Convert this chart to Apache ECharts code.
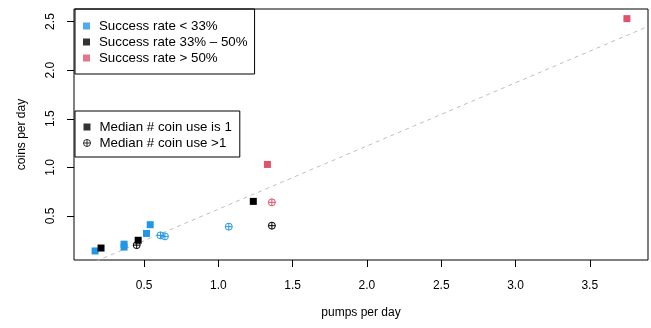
<!DOCTYPE html>
<html>
<head>
	<meta charset="UTF-8" />
	<title></title>
	<style type="text/css">
		* { margin: 0; padding: 0; }
		#main { width: 651px; height: 328px; background-color: #fff; }
	</style>
</head>
<body>
	<div id="main"></div>
</body>
<script src="https://cdn.jsdelivr.net/npm/echarts@6/dist/echarts.min.js"></script>
<script type="text/javascript">
	// [pumps per day, coins per day]
	// median coin use is 1 (filled square)
	var lowRate1 = [[0.17, 0.14], [0.365, 0.21], [0.365, 0.18], [0.516, 0.32], [0.541, 0.41]]
	var midRate1 = [[0.21, 0.17], [0.46, 0.25], [1.235, 0.65]]
	var highRate1 = [[1.33, 1.03], [3.75, 2.53]]
	// median coin use > 1 (circle with plus)
	var lowRate2 = [[0.61, 0.30], [0.64, 0.29], [1.07, 0.39]]
	var midRate2 = [[0.45, 0.20], [1.36, 0.40]]
	var highRate2 = [[1.36, 0.64]]

	var xTicks = [0.5, 1.0, 1.5, 2.0, 2.5, 3.0, 3.5]
	var yTicks = [0.5, 1.0, 1.5, 2.0, 2.5]

	// dashed reference line  y = a + b*x
	var lineA = -0.08
	var lineB = 0.65

	var rateNames = ['Success rate < 33%', 'Success rate 33% \u2013 50%', 'Success rate > 50%']
	var useNames = ['Median # coin use is 1', 'Median # coin use >1']

	var blue = '#2297E6', black = '#000000', pink = '#DF536B'
	var xMin = 0.028, xMax = 3.892, yMin = 0.047, yMax = 2.629
	var plusPath = 'path://M10,0A10,10,0,1,1,10,20A10,10,0,1,1,10,0ZM0,10L20,10M10,0L10,20'
	var font = 'Liberation Sans, Arial, Helvetica, sans-serif'

	var myChart = echarts.init(document.getElementById('main'), null, { renderer: 'canvas' })

	function squares(data, color) {
		return {
			type: 'scatter', symbol: 'rect', symbolSize: 7, data: data,
			itemStyle: { color: color, opacity: 1 }, z: 3, silent: true
		}
	}
	function pluses(data, color) {
		return {
			type: 'scatter', symbol: plusPath, symbolSize: 7, data: data,
			itemStyle: { color: 'rgba(0,0,0,0)', borderColor: color, borderWidth: 1, opacity: 1 }, z: 3, silent: true
		}
	}
	function dummy(name, color) {
		return { type: 'scatter', name: name, data: [], itemStyle: { color: color } }
	}

	var lineData = [xMin, xMax].map(x => [x, lineA + lineB * x])

	var option = {
		animation: false,
		textStyle: { fontFamily: font },
		grid: {
			left: 74, right: 3, top: 9, bottom: 68,
			show: true, borderColor: '#000', borderWidth: 1, backgroundColor: 'transparent'
		},
		xAxis: {
			type: 'value', min: xMin, max: xMax,
			name: 'pumps per day', nameLocation: 'middle', nameGap: 47,
			nameTextStyle: { color: '#000', fontSize: 12, fontFamily: font },
			axisLine: { show: false },
			splitLine: { show: false },
			axisTick: { show: true, length: 7, customValues: xTicks, lineStyle: { color: '#000' } },
			axisLabel: {
				customValues: xTicks, margin: 20, color: '#000', fontSize: 12, fontFamily: font,
				formatter: v => v.toFixed(1)
			}
		},
		yAxis: {
			type: 'value', min: yMin, max: yMax,
			name: 'coins per day', nameLocation: 'middle', nameGap: 46,
			nameTextStyle: { color: '#000', fontSize: 12, fontFamily: font },
			axisLine: { show: false },
			splitLine: { show: false },
			axisTick: { show: true, length: 7, customValues: yTicks, lineStyle: { color: '#000' } },
			axisLabel: {
				customValues: yTicks, margin: 17, rotate: 90, color: '#000', fontSize: 12, fontFamily: font,
				formatter: v => v.toFixed(1)
			}
		},
		legend: [{
			orient: 'vertical', left: 75, top: 9,
			borderColor: '#000', borderWidth: 1, padding: [9, 7, 8, 8],
			itemWidth: 7, itemHeight: 7, itemGap: 0,
			textStyle: { fontSize: 13.3, lineHeight: 16, color: '#000', fontFamily: font, padding: [0, 0, 0, 4] },
			selectedMode: false,
			data: [
				{ name: rateNames[0], icon: 'rect', itemStyle: { color: blue } },
				{ name: rateNames[1], icon: 'rect', itemStyle: { color: black } },
				{ name: rateNames[2], icon: 'rect', itemStyle: { color: pink } }
			]
		}, {
			orient: 'vertical', left: 75, top: 111,
			borderColor: '#000', borderWidth: 1, padding: [8, 8, 6, 8],
			itemWidth: 7, itemHeight: 7, itemGap: 0,
			textStyle: { fontSize: 13.3, lineHeight: 16, color: '#000', fontFamily: font, padding: [0, 0, 0, 4] },
			selectedMode: false,
			data: [
				{ name: useNames[0], icon: 'rect', itemStyle: { color: black } },
				{ name: useNames[1], icon: plusPath, itemStyle: { color: 'rgba(0,0,0,0)', borderColor: black, borderWidth: 1 } }
			]
		}],
		series: [
			{
				type: 'line', data: lineData, showSymbol: false, symbol: 'none', clip: true, silent: true, z: 1,
				lineStyle: { color: '#bebebe', width: 1, type: [4, 4] }
			},
			squares(lowRate1, blue),
			squares(midRate1, black),
			squares(highRate1, pink),
			pluses(lowRate2, blue),
			pluses(midRate2, black),
			pluses(highRate2, pink),
			dummy(rateNames[0], blue),
			dummy(rateNames[1], black),
			dummy(rateNames[2], pink),
			dummy(useNames[0], black),
			dummy(useNames[1], black)
		]
	}
	myChart.setOption(option)
</script>
</html>
